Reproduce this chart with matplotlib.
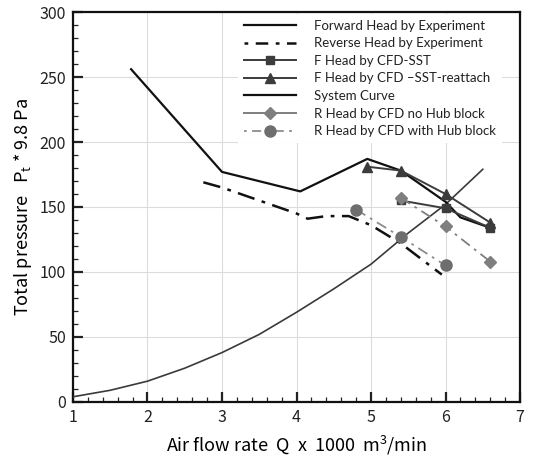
import matplotlib
matplotlib.use('Agg')
import matplotlib.pyplot as plt
from matplotlib.lines import Line2D
from matplotlib.ticker import MultipleLocator

plt.rcParams['font.family'] = ['Noto Sans CJK KR', 'DejaVu Sans']
plt.rcParams['mathtext.default'] = 'regular'

# Forward head by experiment
fwd_x = [1.78, 3.0, 4.05, 4.95, 5.4, 6.0, 6.2, 6.6]
fwd_y = [256, 177, 162, 187, 178, 154, 142, 134]

# Reverse head by experiment
rev_x = [2.75, 3.0, 3.5, 4.0, 4.15, 4.4, 4.7, 5.0, 5.4, 5.95]
rev_y = [169, 165, 155, 145, 141, 143, 143, 136, 122, 98]

# F head by CFD-SST
sst_x = [5.4, 6.0, 6.6]
sst_y = [155, 149, 134]

# F head by CFD-SST-reattach
rea_x = [4.95, 5.4, 6.0, 6.6]
rea_y = [181, 178, 160, 138]

# System curve
sys_x = [1.0, 1.5, 2.0, 2.5, 3.0, 3.5, 4.0, 4.5, 5.0, 5.5, 6.0, 6.5]
sys_y = [4, 9, 16, 26, 38, 52, 69, 87, 106, 130, 152, 179]

# R head by CFD no hub block
nohub_x = [5.4, 6.0, 6.6]
nohub_y = [157, 135, 108]

# R head by CFD with hub block
hub_x = [4.8, 5.4, 6.0]
hub_y = [148, 127, 105]

fig = plt.figure(figsize=(5.39, 4.57), dpi=100)
ax = fig.add_axes([0.1354, 0.1204, 0.8294, 0.8533])

ax.plot(sys_x, sys_y, color='#3a3a3a', lw=1.2, zorder=3)
ax.plot(fwd_x, fwd_y, color='#111111', lw=1.6, zorder=4)
ax.plot(rev_x, rev_y, color='#111111', lw=1.8, ls=(0, (7, 3, 1.5, 3)), zorder=4)
ax.plot(sst_x, sst_y, color='#3c3c3c', lw=1.4, marker='s', ms=6, zorder=5)
ax.plot(rea_x, rea_y, color='#3c3c3c', lw=1.4, marker='^', ms=6.5, zorder=5)
ax.plot(nohub_x, nohub_y, color='#7f7f7f', lw=1.3, ls=(0, (6, 3, 1.5, 3)),
        marker='D', ms=6, zorder=5)
ax.plot(hub_x, hub_y, color='#8c8c8c', lw=1.3, ls=(0, (6, 3, 1.5, 3)),
        marker='o', ms=8, mfc='#6e6e6e', mec='#6e6e6e', zorder=5)

ax.set_xlim(1, 7)
ax.set_ylim(0, 300)
ax.xaxis.set_major_locator(MultipleLocator(1))
ax.xaxis.set_minor_locator(MultipleLocator(0.2))
ax.yaxis.set_major_locator(MultipleLocator(50))
ax.yaxis.set_minor_locator(MultipleLocator(10))
ax.grid(True, which='major', color='#dcdcdc', lw=0.8, zorder=0)
ax.set_axisbelow(True)

ax.tick_params(which='both', direction='in', top=False, right=False,
               labelsize=11.5, colors='#222222')
ax.tick_params(which='major', length=7, width=1.6, pad=5)
ax.tick_params(which='minor', length=3.5, width=0.9)
for s in ax.spines.values():
    s.set_linewidth(1.6)
    s.set_color('#111111')

ax.set_xlabel('Air flow rate  Q  x  1000  m$^3$/min', fontsize=13, labelpad=6)
ax.set_ylabel('Total pressure   P$_t$ * 9.8 Pa', fontsize=13, labelpad=4)

handles = [
    Line2D([], [], color='#111111', lw=1.6),
    Line2D([], [], color='#111111', lw=1.8, ls=(0, (1.5, 3, 5, 3))),
    Line2D([], [], color='#3c3c3c', lw=1.4, marker='s', ms=6),
    Line2D([], [], color='#3c3c3c', lw=1.4, marker='^', ms=6.5),
    Line2D([], [], color='#111111', lw=1.6),
    Line2D([], [], color='#7f7f7f', lw=1.4, marker='D', ms=6),
    Line2D([], [], color='#8c8c8c', lw=1.3, ls=(0, (1.5, 3, 5, 3)),
           marker='o', ms=8, mfc='#6e6e6e', mec='#6e6e6e'),
]
labels = ['Forward Head by Experiment', 'Reverse Head by Experiment',
          'F Head by CFD-SST', 'F Head by CFD \u2013SST-reattach',
          'System Curve', 'R Head by CFD no Hub block',
          'R Head by CFD with Hub block']
leg = ax.legend(handles, labels, loc='upper left', bbox_to_anchor=(0.355, 1.012),
                frameon=True, facecolor='white', edgecolor='none', framealpha=1,
                prop={'family': ['Lato', 'DejaVu Sans'], 'size': 9.5},
                handlelength=3.95, handletextpad=1.36, labelspacing=0.42,
                borderpad=0.45, fancybox=False)
leg.set_zorder(6)
for t in leg.get_texts():
    t.set_color('#222222')

fig.savefig('out.png', dpi=100)
